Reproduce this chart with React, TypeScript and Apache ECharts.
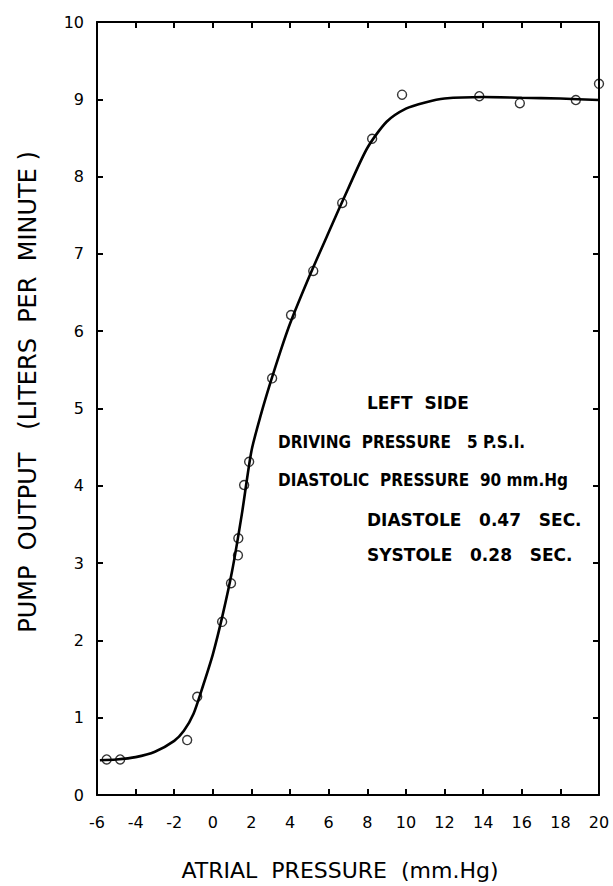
import React, { useEffect, useRef } from "react";
import * as echarts from "echarts";

// Measured points (atrial pressure mm.Hg, pump output L/min)
const pointX = [-5.5, -4.8, -1.33, -0.81, 0.48, 0.94, 1.3, 1.32, 1.62, 1.88, 3.07, 4.05, 5.2, 6.7, 8.25, 9.8, 13.8, 15.9, 18.8, 20.0];
const pointY = [0.46, 0.46, 0.71, 1.27, 2.24, 2.74, 3.1, 3.32, 4.01, 4.31, 5.39, 6.21, 6.78, 7.66, 8.49, 9.06, 9.04, 8.95, 8.99, 9.2];

// Fitted curve
const curveX = [-5.85, -5, -4, -3, -2, -1.5, -1, -0.5, 0, 0.5, 1, 1.5, 2, 2.5, 3, 3.5, 4, 5, 6, 7, 8, 9, 10, 11, 12, 14, 16, 18, 20];
const curveY = [0.45, 0.46, 0.49, 0.56, 0.7, 0.83, 1.05, 1.42, 1.82, 2.32, 2.9, 3.63, 4.45, 4.93, 5.35, 5.74, 6.1, 6.71, 7.28, 7.84, 8.37, 8.71, 8.88, 8.96, 9.01, 9.03, 9.02, 9.01, 8.99];

const xTicks = ["-6", "-4", "-2", "0", "2", "4", "6", "8", "10", "12", "14", "16", "18", "20"];
const yTicks = ["0", "1", "2", "3", "4", "5", "6", "7", "8", "9", "10"];

const annotations = [
  { text: "LEFT  SIDE", x: 367, y: 403, cond: false },
  { text: "DRIVING  PRESSURE   5 P.S.I.", x: 278, y: 442, cond: true },
  { text: "DIASTOLIC  PRESSURE  90 mm.Hg", x: 278, y: 480, cond: true },
  { text: "DIASTOLE   0.47   SEC.", x: 367, y: 520, cond: false },
  { text: "SYSTOLE   0.28   SEC.", x: 367, y: 555, cond: false },
];

export default function App() {
  const ref = useRef<HTMLDivElement>(null);
  useEffect(() => {
    if (!ref.current) return;
    const chart = echarts.init(ref.current, null, { renderer: "svg" });
    const font = "DejaVu Sans, Verdana, sans-serif";
    const axisLine = { show: true, onZero: false, lineStyle: { color: "#000", width: 2 } };
    const tick = { show: true, inside: true, length: 6, lineStyle: { color: "#000", width: 2 } };
    chart.setOption({
      animation: false,
      backgroundColor: "#fff",
      grid: { left: 97, right: 14, top: 22, bottom: 91 },
      xAxis: [
        {
          type: "value", min: -6, max: 20, interval: 2, position: "bottom",
          axisLine, axisTick: tick, splitLine: { show: false },
          axisLabel: {
            color: "#000", fontSize: 16, fontFamily: font, margin: 19,
            formatter: (v: number) => xTicks[Math.round((v + 6) / 2)] ?? String(v),
          },
        },
        {
          type: "value", min: -6, max: 20, interval: 2, position: "top",
          axisLine, axisTick: tick, splitLine: { show: false }, axisLabel: { show: false },
        },
      ],
      yAxis: [
        {
          type: "value", min: 0, max: 10, interval: 1, position: "left",
          axisLine, axisTick: tick, splitLine: { show: false },
          axisLabel: {
            color: "#000", fontSize: 16, fontFamily: font, margin: 13,
            formatter: (v: number) => yTicks[Math.round(v)] ?? String(v),
          },
        },
        {
          type: "value", min: 0, max: 10, interval: 1, position: "right",
          axisLine, axisTick: tick, splitLine: { show: false }, axisLabel: { show: false },
        },
      ],
      series: [
        {
          type: "line",
          data: curveX.map((x, i) => [x, curveY[i]]),
          smooth: 0.25,
          showSymbol: false,
          symbol: "none",
          lineStyle: { color: "#000", width: 2.6 },
          z: 2,
        },
        {
          type: "scatter",
          data: pointX.map((x, i) => [x, pointY[i]]),
          symbol: "circle",
          symbolSize: 9,
          clip: false,
          itemStyle: { color: "rgba(0,0,0,0)", borderColor: "#000", borderWidth: 1.4 },
          z: 3,
        },
      ],
      graphic: [
        {
          type: "text",
          x: 28, y: 392,
          rotation: Math.PI / 2,
          style: {
            text: "PUMP  OUTPUT   (LITERS  PER  MINUTE )",
            fill: "#000",
            font: `24px ${font}`,
            align: "center",
            verticalAlign: "middle",
          },
        },
        {
          type: "text",
          x: 340, y: 870,
          style: {
            text: "ATRIAL  PRESSURE  (mm.Hg)",
            fill: "#000",
            font: `22px ${font}`,
            align: "center",
            verticalAlign: "middle",
          },
        },
        ...annotations.map((a) => ({
          type: "text",
          x: a.x, y: a.y,
          style: {
            text: a.text,
            fill: "#000",
            font: a.cond
              ? `bold 17px "DejaVu Sans Condensed", "Liberation Sans Narrow", sans-serif`
              : `bold 17px ${font}`,
            align: "left",
            verticalAlign: "middle",
          },
        })),
      ],
    });
    return () => chart.dispose();
  }, []);
  return (
    <div
      ref={ref}
      style={{ position: "fixed", left: 0, top: 0, width: 613, height: 886, background: "#fff" }}
    />
  );
}
